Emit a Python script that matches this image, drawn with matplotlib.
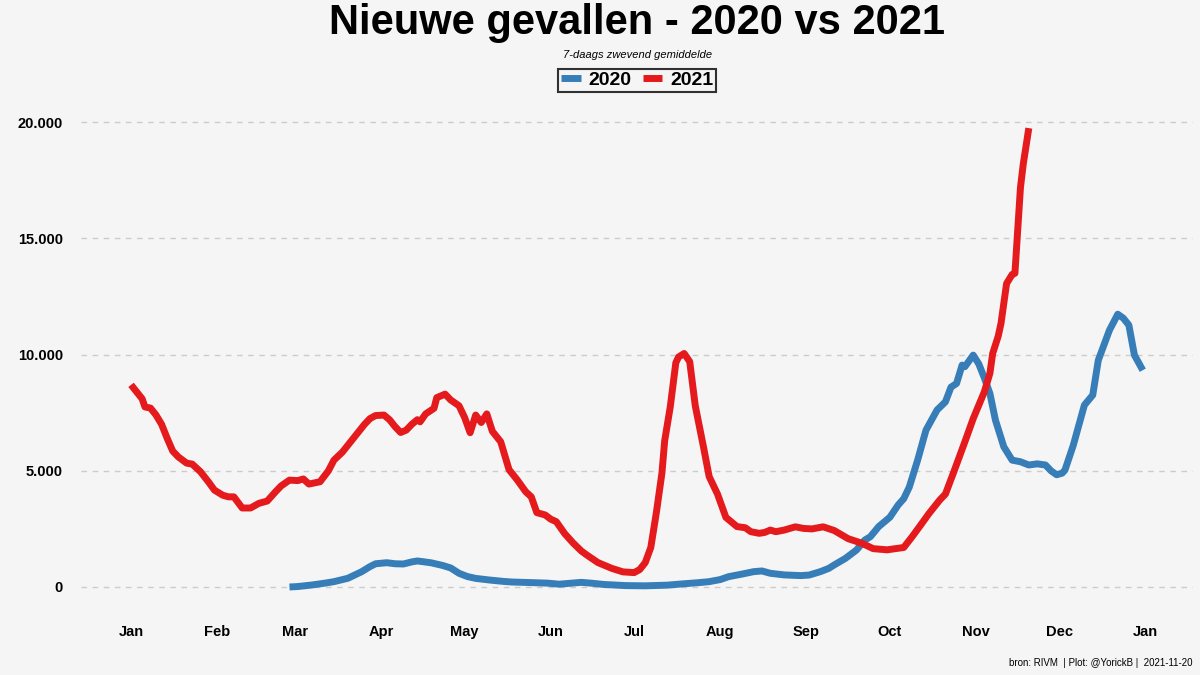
import pandas as pd
import matplotlib.pyplot as plt
from matplotlib.ticker import FuncFormatter

plt.rcParams['font.family'] = ['Liberation Sans', 'DejaVu Sans']

# dag van het jaar (0 = 1 jan), 7-daags gemiddelde nieuwe gevallen
dag_2021 = [0, 2, 4, 5, 7, 9, 11, 13, 15, 17, 20, 22, 25, 28, 30, 33, 35, 37, 40, 43,
            46, 49, 52, 54, 57, 60, 62, 64, 68, 71, 73, 76, 79, 82, 84, 86, 88, 91, 93, 95,
            97, 99, 101, 103, 104, 106, 109, 110, 113, 115, 118, 120, 122, 124, 126, 128, 130, 133, 136, 139,
            142, 144, 146, 149, 151, 153, 156, 159, 162, 164, 168, 173, 177, 181, 183, 185, 187, 189, 191, 192,
            194, 196, 197, 199, 201, 203, 206, 208, 211, 214, 218, 221, 223, 226, 228, 230, 232, 235, 239, 242,
            245, 249, 253, 258, 263, 267, 272, 278, 281, 284, 287, 291, 293, 296, 300, 303, 307, 309, 310, 312,
            313, 315, 317, 318, 320, 321, 323]
gevallen_2021 = [8700, 8400, 8100, 7750, 7700, 7400, 7000, 6400, 5850, 5600, 5330, 5290, 4960, 4500, 4170, 3950, 3880, 3880, 3400, 3400,
                 3600, 3700, 4100, 4350, 4600, 4580, 4650, 4430, 4530, 5000, 5460, 5800, 6250, 6700, 7000, 7250, 7380, 7400, 7200, 6900,
                 6650, 6750, 7000, 7200, 7110, 7450, 7690, 8150, 8300, 8050, 7800, 7300, 6640, 7400, 7080, 7450, 6700, 6250, 5050, 4600,
                 4100, 3880, 3200, 3100, 2920, 2810, 2300, 1900, 1550, 1375, 1050, 800, 650, 620, 750, 1050, 1700, 3200, 4900, 6300,
                 7750, 9650, 9900, 10050, 9700, 7800, 6000, 4750, 4000, 3000, 2600, 2550, 2380, 2310, 2350, 2450, 2380, 2450, 2590, 2520,
                 2500, 2590, 2430, 2080, 1880, 1650, 1600, 1700, 2160, 2650, 3150, 3750, 4000, 4950, 6250, 7250, 8400, 9200, 10050, 10800,
                 11350, 13060, 13450, 13500, 17200, 18200, 19750]

dag_2020 = [57, 60, 65, 70, 73, 78, 83, 86, 88, 92, 95, 98, 101, 103, 105, 108, 112, 115, 118, 121,
            124, 129, 134, 137, 145, 150, 154, 158, 162, 166, 170, 178, 185, 193, 198, 204, 208, 212, 215, 220,
            224, 227, 230, 235, 241, 244, 248, 251, 253, 257, 261, 264, 266, 269, 273, 276, 278, 280, 283, 286,
            290, 293, 295, 297, 299, 300, 303, 305, 307, 309, 311, 314, 317, 320, 323, 326, 329, 331, 333, 335,
            336, 339, 343, 346, 348, 352, 355, 357, 359, 361, 364]
gevallen_2020 = [0, 20, 85, 170, 230, 375, 660, 880, 1000, 1045, 1000, 990, 1080, 1120, 1090, 1040, 930, 820, 590, 450,
                 370, 300, 240, 215, 185, 165, 120, 160, 200, 160, 110, 60, 50, 80, 130, 185, 230, 320, 445, 560,
                 660, 690, 590, 520, 490, 515, 660, 800, 950, 1230, 1590, 2020, 2165, 2600, 3000, 3530, 3800, 4300, 5460, 6750,
                 7620, 7970, 8600, 8760, 9550, 9480, 9980, 9600, 9000, 8330, 7180, 6035, 5460, 5390, 5250, 5300, 5250, 5000, 4830, 4900,
                 5030, 6100, 7830, 8260, 9760, 11050, 11740, 11570, 11270, 9980, 9330]

maanden = ['Jan', 'Feb', 'Mar', 'Apr', 'May', 'Jun', 'Jul', 'Aug', 'Sep', 'Oct', 'Nov', 'Dec', 'Jan']

start = pd.Timestamp('2021-01-01')
x21 = start + pd.to_timedelta(dag_2021, unit='D')
x20 = start + pd.to_timedelta(dag_2020, unit='D')
ticks = pd.date_range('2021-01-01', '2022-01-01', freq='MS')

bg = '#F5F5F5'
fig = plt.figure(figsize=(12, 6.75), dpi=100, facecolor=bg)
ax = fig.add_axes([0.0675, 0.0963, 0.9265, 0.7497], facecolor=bg)

ax.plot(x20, gevallen_2020, color='#377EB8', lw=5, label='2020',
        solid_capstyle='butt', solid_joinstyle='round')
ax.plot(x21, gevallen_2021, color='#E41A1C', lw=5, label='2021',
        solid_capstyle='butt', solid_joinstyle='round')

ax.set_xlim(start - pd.Timedelta(days=18), start + pd.Timedelta(days=382))
ax.set_ylim(-990, 20790)
ax.set_xticks(ticks)
ax.set_xticklabels(maanden)
ax.set_yticks([0, 5000, 10000, 15000, 20000])
ax.yaxis.set_major_formatter(FuncFormatter(lambda v, p: f'{int(v):,}'.replace(',', '.')))
ax.tick_params(axis='both', length=0, labelsize=10.5)
ax.tick_params(axis='y', pad=13)
ax.tick_params(axis='x', pad=11)
for lab in ax.get_xticklabels() + ax.get_yticklabels():
    lab.set_fontweight('bold')
ax.grid(axis='y', color='#CCCCCC', linestyle=(0, (4, 4)), lw=1)
ax.grid(axis='x', visible=False)
for s in ax.spines.values():
    s.set_visible(False)

fig.text(0.531, 0.966, 'Nieuwe gevallen - 2020 vs 2021', ha='center', va='center',
         fontsize=30, fontweight='bold')
fig.text(0.531, 0.918, '7-daags zwevend gemiddelde', ha='center', va='center',
         fontsize=8, style='italic')
leg = fig.legend(loc='center', bbox_to_anchor=(0.531, 0.881), ncol=2,
                 prop={'weight': 'bold', 'size': 14}, frameon=True, fancybox=False,
                 edgecolor='black', facecolor=bg, handlelength=1.0, handletextpad=0.4,
                 columnspacing=0.6, borderpad=0.15)
leg.get_frame().set_linewidth(1.5)
fig.text(0.994, 0.018, 'bron: RIVM  | Plot: @YorickB |  2021-11-20', ha='right', va='center',
         fontsize=7)

fig.savefig('out.png', dpi=100, facecolor=bg)
